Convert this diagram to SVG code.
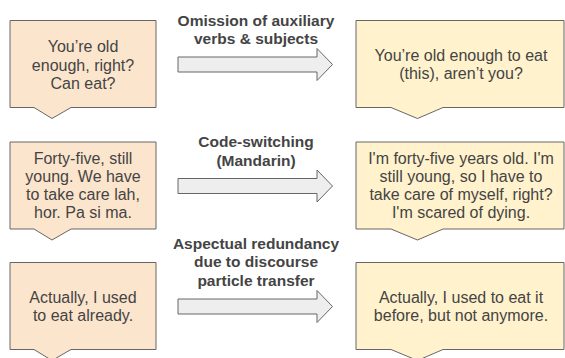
<svg xmlns="http://www.w3.org/2000/svg" width="565" height="358" viewBox="0 0 565 358">
  <style>
    .src { fill: #fce5cd; stroke: #666666; stroke-width: 1; }
    .dst { fill: #fff2cc; stroke: #666666; stroke-width: 1; }
    .arrow { fill: #eeeeee; stroke: #666666; stroke-width: 1; }
    .txt { font-family: "Liberation Sans", Arial, sans-serif; font-size: 16px; fill: #444444; text-anchor: middle; }
    .lbl { font-family: "Liberation Sans", Arial, sans-serif; font-size: 15.5px; font-weight: bold; fill: #444444; text-anchor: middle; }
  </style>
  <defs>
    <!-- callout shapes with a notch on the bottom edge -->
    <path id="srcShape" d="M10,20.5 H156 V107.5 H71 L52,118.5 L34,107.5 H10 Z"/>
    <path id="dstShape" d="M356,20.5 H564 V107.5 H443 L417.5,118.5 L391,107.5 H356 Z"/>
    <path id="arrowShape" d="M178,57 H317 V48.5 L332.5,64.5 L317,80.5 V72 H178 Z"/>
  </defs>

  <!-- row 1 -->
  <g id="src1">
    <use href="#srcShape" class="src"/>
    <text class="txt" x="83" y="52">You’re old</text>
    <text class="txt" x="83" y="70.5">enough, right?</text>
    <text class="txt" x="83" y="89">Can eat?</text>
  </g>
  <g id="dst1">
    <use href="#dstShape" class="dst"/>
    <text class="txt" x="461" y="61">You’re old enough to eat</text>
    <text class="txt" x="461" y="79">(this), aren’t you?</text>
  </g>

  <!-- row 2 -->
  <g id="src2" transform="translate(0,121.5)">
    <use href="#srcShape" class="src"/>
  </g>
  <g id="src2-text">
    <text class="txt" x="83" y="164">Forty-five, still</text>
    <text class="txt" x="83" y="182">young. We have</text>
    <text class="txt" x="83" y="200">to take care lah,</text>
    <text class="txt" x="83" y="218">hor. Pa si ma.</text>
  </g>
  <g id="dst2" transform="translate(0,121.5)">
    <use href="#dstShape" class="dst"/>
  </g>
  <g id="dst2-text">
    <text class="txt" x="461" y="164">I'm forty-five years old. I'm</text>
    <text class="txt" x="461" y="182">still young, so I have to</text>
    <text class="txt" x="461" y="200">take care of myself, right?</text>
    <text class="txt" x="461" y="218">I'm scared of dying.</text>
  </g>

  <!-- row 3 -->
  <g id="src3" transform="translate(0,242)">
    <use href="#srcShape" class="src"/>
  </g>
  <g id="src3-text">
    <text class="txt" x="83" y="302.5">Actually, I used</text>
    <text class="txt" x="83" y="320.5">to eat already.</text>
  </g>
  <g id="dst3" transform="translate(0,242)">
    <use href="#dstShape" class="dst"/>
  </g>
  <g id="dst3-text">
    <text class="txt" x="461" y="302.5">Actually, I used to eat it</text>
    <text class="txt" x="461" y="320.5">before, but not anymore.</text>
  </g>

  <!-- connectors: block arrows with their labels -->
  <g id="connectors">
    <g id="arrow1">
      <use href="#arrowShape" class="arrow"/>
      <text class="lbl" x="256" y="25.5">Omission of auxiliary</text>
      <text class="lbl" x="256" y="44">verbs &amp; subjects</text>
    </g>
    <g id="arrow2">
      <use href="#arrowShape" class="arrow" transform="translate(0,121.5)"/>
      <text class="lbl" x="256" y="147">Code-switching</text>
      <text class="lbl" x="256" y="165.5">(Mandarin)</text>
    </g>
    <g id="arrow3">
      <use href="#arrowShape" class="arrow" transform="translate(0,242)"/>
      <text class="lbl" x="256" y="248.5">Aspectual redundancy</text>
      <text class="lbl" x="256" y="267">due to discourse</text>
      <text class="lbl" x="256" y="285.5">particle transfer</text>
    </g>
  </g>
</svg>
